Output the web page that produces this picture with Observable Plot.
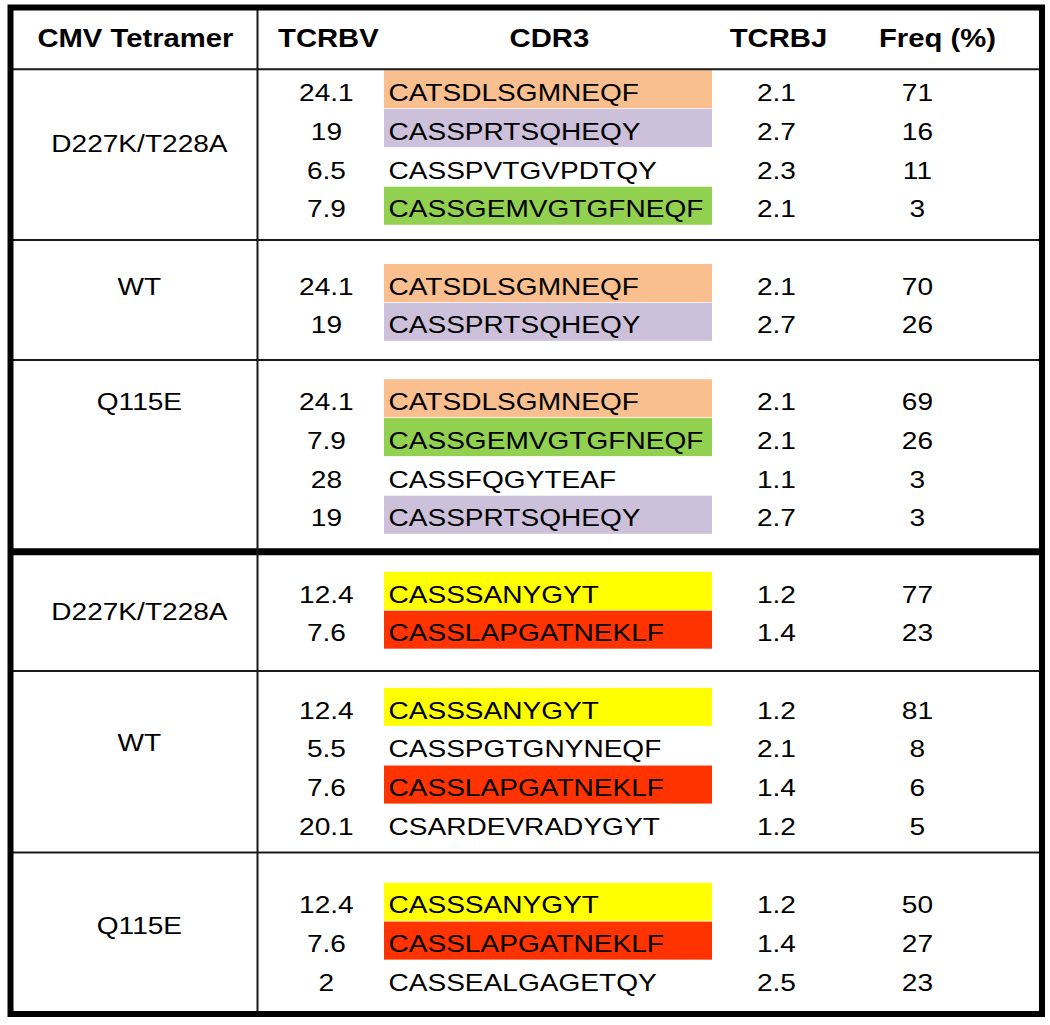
<!DOCTYPE html>
<html>
<head>
<meta charset="utf-8">
<script src="https://cdn.jsdelivr.net/npm/d3@7"></script>
<script src="https://cdn.jsdelivr.net/npm/@observablehq/plot@0.6"></script>
<style>
  html, body { margin: 0; padding: 0; background: #fff; }
</style>
</head>
<body>
<div id="chart"></div>
<script>
// ---------------- DATA ----------------
const headers = ["CMV Tetramer", "TCRBV", "CDR3", "TCRBJ", "Freq (%)"];
const tetramers = ["D227K/T228A", "WT", "Q115E", "D227K/T228A", "WT", "Q115E"];
const groupSizes = [4, 2, 4, 2, 4, 3];
const tcrbv = ["24.1", "19", "6.5", "7.9", "24.1", "19", "24.1", "7.9", "28", "19",
               "12.4", "7.6", "12.4", "5.5", "7.6", "20.1", "12.4", "7.6", "2"];
const cdr3 = ["CATSDLSGMNEQF", "CASSPRTSQHEQY", "CASSPVTGVPDTQY", "CASSGEMVGTGFNEQF",
              "CATSDLSGMNEQF", "CASSPRTSQHEQY",
              "CATSDLSGMNEQF", "CASSGEMVGTGFNEQF", "CASSFQGYTEAF", "CASSPRTSQHEQY",
              "CASSSANYGYT", "CASSLAPGATNEKLF",
              "CASSSANYGYT", "CASSPGTGNYNEQF", "CASSLAPGATNEKLF", "CSARDEVRADYGYT",
              "CASSSANYGYT", "CASSLAPGATNEKLF", "CASSEALGAGETQY"];
const tcrbj = ["2.1", "2.7", "2.3", "2.1", "2.1", "2.7", "2.1", "2.1", "1.1", "2.7",
               "1.2", "1.4", "1.2", "2.1", "1.4", "1.2", "1.2", "1.4", "2.5"];
const freq = [71, 16, 11, 3, 70, 26, 69, 26, 3, 3, 77, 23, 81, 8, 6, 5, 50, 27, 23];

// ---------------- STYLE ----------------
const highlight = {
  "CATSDLSGMNEQF": "#F9BF8F",
  "CASSPRTSQHEQY": "#CCC0DA",
  "CASSGEMVGTGFNEQF": "#92D050",
  "CASSSANYGYT": "#FFFF00",
  "CASSLAPGATNEKLF": "#FF3300"
};
const fontFamily = "'Liberation Sans', Arial, Helvetica, sans-serif";
const textStretch = 1.17;

// ---------------- LAYOUT (row units) ----------------
const headerUnits = 1.576;         // header band height
const headerTextY = 0.8;
const padTop = [0.62, 1.21, 1.09, 1.11, 1.03, 1.37];
const padBottom = [0.78, 0.88, 0.85, 0.96, 0.65, 0.80];
const labelRow = [1.32, 0, 0, 0.44, 0.83, 0.54];
const col = { tet: 139, tetH: 135, bv: 326, bvH: 328, cdr3: 388, cdr3H: 549,
              bj: 776, bjH: 778, freq: 917, freqH: 937 };
const hlX1 = 384, hlX2 = 712;
const borderL = 10.5, borderR = 1042, divider = 257;

// Build table rows
const rows = [], labels = [], bounds = [];
let y = headerUnits, k = 0;
groupSizes.forEach((n, g) => {
  const first = y + padTop[g];
  for (let i = 0; i < n; i++, k++) {
    rows.push({ y: first + i, bv: tcrbv[k], cdr3: cdr3[k], bj: tcrbj[k], freq: String(freq[k]) });
  }
  labels.push({ y: first + labelRow[g], text: tetramers[g] });
  const bottom = first + (n - 1) + padBottom[g];
  if (g < groupSizes.length - 1) bounds.push({ y: bottom, thick: g === 2 });
  y = bottom;
});
const total = y;

const headerRow = [
  { x: col.tetH, text: headers[0] }, { x: col.bvH, text: headers[1] },
  { x: col.cdr3H, text: headers[2] }, { x: col.bjH, text: headers[3] },
  { x: col.freqH, text: headers[4] }
];

const hlRows = rows.filter(r => highlight[r.cdr3]);

const chart = Plot.plot({
  width: 1050,
  height: 1025,
  margin: 0,
  x: { domain: [0, 1050], range: [0, 1050], axis: null },
  y: { domain: [0, total], range: [7.5, 1014], axis: null },
  style: { fontFamily, fontSize: "24px", background: "#fff", color: "#000" },
  marks: [
    Plot.rect(hlRows, { x1: hlX1, x2: hlX2, y1: d => d.y - 0.58, y2: d => d.y + 0.40,
                        fill: d => highlight[d.cdr3] }),
    Plot.ruleY([headerUnits], { x1: borderL, x2: borderR, stroke: "#1a1a1a", strokeWidth: 2 }),
    Plot.ruleY(bounds.filter(b => !b.thick), { y: "y", x1: borderL, x2: borderR, stroke: "#1a1a1a", strokeWidth: 2 }),
    Plot.ruleY(bounds.filter(b => b.thick), { y: "y", x1: borderL, x2: borderR, stroke: "#000", strokeWidth: 7 }),
    Plot.ruleX([divider], { y1: 0, y2: total, stroke: "#1a1a1a", strokeWidth: 2 }),
    Plot.rect([0], { x1: borderL, x2: borderR, y1: 0, y2: total, fill: "none", stroke: "#000", strokeWidth: 6 }),
    Plot.text(headerRow, { x: "x", y: headerTextY, text: "text", fontWeight: "bold", fontSize: 25, fill: "#000" }),
    Plot.text(labels, { x: col.tet, y: "y", text: "text", fill: "#000" }),
    Plot.text(rows, { x: col.bv, y: "y", text: "bv", fill: "#000" }),
    Plot.text(rows, { x: col.cdr3, y: "y", text: "cdr3", textAnchor: "start", fill: "#000" }),
    Plot.text(rows, { x: col.bj, y: "y", text: "bj", fill: "#000" }),
    Plot.text(rows, { x: col.freq, y: "y", text: "freq", fill: "#000" })
  ]
});

document.getElementById("chart").appendChild(chart);

// Horizontally stretch the lettering (wide typeface of the original) around each text's anchor
const svgBox = chart.getBoundingClientRect();
chart.querySelectorAll("text").forEach(t => {
  const r = t.getBoundingClientRect();
  const anchor = getComputedStyle(t).textAnchor;
  const ax = (anchor === "start" ? r.left : anchor === "end" ? r.right : r.left + r.width / 2) - svgBox.left;
  const g = document.createElementNS("http://www.w3.org/2000/svg", "g");
  g.setAttribute("transform", `translate(${ax},0) scale(${textStretch},1) translate(${-ax},0)`);
  t.parentNode.insertBefore(g, t);
  g.appendChild(t);
});
</script>
</body>
</html>
